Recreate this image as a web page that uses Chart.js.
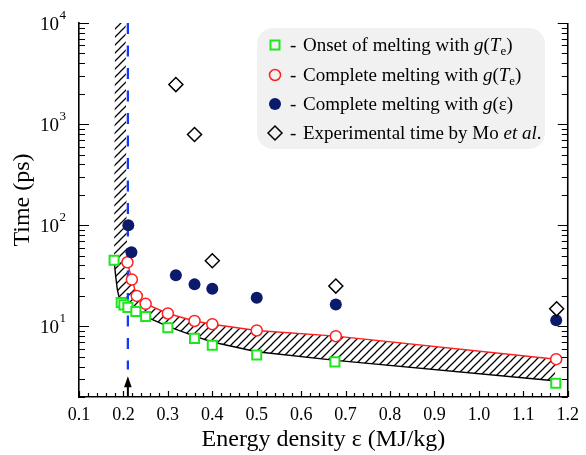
<!DOCTYPE html>
<html lang="en">
<head>
    <meta charset="UTF-8">
    <title>Melting time vs energy density</title>
    <script src="https://cdn.jsdelivr.net/npm/chart.js"></script>
    <style>
        html, body { margin: 0; padding: 0; background: #ffffff; }
        #wrap { width: 586px; height: 455px; position: relative; }
    </style>
</head>
<body>
    <div id="wrap"><canvas id="meltChart"></canvas></div>

    <script>
        // onset of melting, g(Te)
        const onsetX = [0.179, 0.195, 0.201, 0.210, 0.228, 0.250, 0.300, 0.360, 0.400, 0.500, 0.676, 1.173];
        const onsetY = [45, 17.2, 16.3, 15.4, 14.0, 12.5, 9.7, 7.6, 6.5, 5.2, 4.45, 2.74];

        // complete melting, g(Te)
        const completeTeX = [0.209, 0.219, 0.230, 0.250, 0.300, 0.360, 0.400, 0.500, 0.678, 1.174];
        const completeTeY = [43, 29, 20, 16.7, 13.4, 11.3, 10.5, 9.1, 8.0, 4.73];

        // complete melting, g(eps)
        const completeEpsX = [0.211, 0.218, 0.318, 0.360, 0.400, 0.500, 0.678, 1.174];
        const completeEpsY = [100, 54, 32, 26, 23.5, 19.2, 16.4, 11.5];

        // experiment (Mo et al.)
        const exptX = [0.318, 0.360, 0.400, 0.678, 1.175];
        const exptY = [2460, 790, 44.5, 25, 14.9];

        // lower edge of the melting band (black curve)
        const bandLowX = [0.179, 0.182, 0.186, 0.190, 0.195, 0.205, 0.220, 0.250, 0.300, 0.360, 0.400, 0.500, 0.678, 1.170];
        const bandLowY = [45, 33, 23.5, 19.5, 17.3, 15.8, 14.5, 12.5, 10.0, 8.0, 7.0, 5.6, 4.6, 2.9];
        // open ends of the band above the first markers
        const bandLeftX = [0.181];
        const bandLeftY = [10000];
        const bandRightX = [0.207, 0.205];
        const bandRightY = [100, 10000];

        // threshold marker
        const thresholdX = 0.21;
        const thresholdDashY = [10000, 3.75];
        const arrowY = [2, 3.2];

        const xTicksMin = 0.1, xTicksMax = 1.2, xStep = 0.1;
        const yMin = 2, yMax = 10000;

        const xTitle = 'Energy density \u03b5 (MJ/kg)';
        const yTitle = 'Time (ps)';

        const green = '#1ee61e', red = '#ff1f1f', navy = '#0b1a6a', blue = '#1438ff';
        const serif = "'Liberation Serif', 'DejaVu Serif', serif";

        const legendRows = [
            [['Onset of melting with ', 'n'], ['g', 'i'], ['(', 'n'], ['T', 'i'], ['e', 'sub'], [')', 'n']],
            [['Complete melting with ', 'n'], ['g', 'i'], ['(', 'n'], ['T', 'i'], ['e', 'sub'], [')', 'n']],
            [['Complete melting with ', 'n'], ['g', 'i'], ['(\u03b5)', 'n']],
            [['Experimental time by Mo ', 'n'], ['et al', 'i'], ['.', 'n']]
        ];

        function pts(xs, ys) {
            return xs.map((x, i) => ({ x: x, y: ys[i] }));
        }

        function makeHatch() {
            const c = document.createElement('canvas');
            c.width = 8; c.height = 8;
            const g = c.getContext('2d');
            g.strokeStyle = '#000';
            g.lineWidth = 1.25;
            g.beginPath();
            g.moveTo(-1, 9); g.lineTo(9, -1);
            g.moveTo(-1, 1); g.lineTo(1, -1);
            g.moveTo(7, 9); g.lineTo(9, 7);
            g.stroke();
            return g.createPattern(c, 'repeat');
        }

        // closed outline of the hatched band: down the lower edge, back up along the red curve
        const bandShape = [
            ...pts(bandLeftX, bandLeftY),
            ...pts(bandLowX, bandLowY),
            ...pts(completeTeX, completeTeY).reverse(),
            ...pts(bandRightX, bandRightY)
        ];

        function drawRuns(ctx, runs, x, y, size) {
            runs.forEach(([t, s]) => {
                if (s === 'sub') {
                    ctx.font = `${Math.round(size * 0.7)}px ${serif}`;
                    ctx.fillText(t, x, y + 4);
                } else {
                    ctx.font = (s === 'i' ? 'italic ' : '') + `${size}px ${serif}`;
                    ctx.fillText(t, x, y);
                }
                x += ctx.measureText(t).width;
            });
        }

        function legendMarker(ctx, i, cx, cy) {
            ctx.save();
            if (i === 0) {
                ctx.strokeStyle = green; ctx.lineWidth = 2;
                ctx.strokeRect(cx - 4.5, cy - 4.5, 9, 9);
            } else if (i === 1) {
                ctx.strokeStyle = red; ctx.lineWidth = 1.5;
                ctx.beginPath(); ctx.arc(cx, cy, 5.5, 0, Math.PI * 2); ctx.stroke();
            } else if (i === 2) {
                ctx.fillStyle = navy;
                ctx.beginPath(); ctx.arc(cx, cy, 6, 0, Math.PI * 2); ctx.fill();
            } else {
                ctx.strokeStyle = '#000'; ctx.lineWidth = 1.5;
                ctx.beginPath();
                ctx.moveTo(cx - 7, cy); ctx.lineTo(cx, cy - 7); ctx.lineTo(cx + 7, cy); ctx.lineTo(cx, cy + 7);
                ctx.closePath(); ctx.stroke();
            }
            ctx.restore();
        }

        // frame ticks, log labels, titles, arrow and legend box
        const decor = {
            id: 'decor',
            afterDraw(chart) {
                const { ctx, chartArea: a } = chart;
                const xs = chart.scales.x, ys = chart.scales.y;
                ctx.save();
                ctx.strokeStyle = '#000';
                ctx.lineWidth = 1.6;
                ctx.beginPath();
                ctx.moveTo(a.right, a.top); ctx.lineTo(a.right, a.bottom);
                ctx.stroke();

                ctx.lineWidth = 1.2;
                ctx.beginPath();
                for (let e = 0; e <= 4; e++) {
                    for (let m = 1; m <= 9; m++) {
                        const v = m * Math.pow(10, e);
                        if (v < yMin || v > yMax) continue;
                        const py = Math.round(ys.getPixelForValue(v)) + 0.5;
                        const len = m === 1 ? 10 : 6;
                        ctx.moveTo(a.left, py); ctx.lineTo(a.left + len, py);
                        ctx.moveTo(a.right, py); ctx.lineTo(a.right - len, py);
                    }
                }
                for (let i = 0; i <= 55; i++) {
                    const v = xTicksMin + i * 0.02;
                    const px = Math.round(xs.getPixelForValue(v)) + 0.5;
                    const len = i % 5 === 0 ? 6 : 4;
                    ctx.moveTo(px, a.bottom); ctx.lineTo(px, a.bottom - len);
                }
                ctx.stroke();

                // y labels as powers of ten
                ctx.fillStyle = '#000';
                ctx.textBaseline = 'alphabetic';
                for (let e = 1; e <= 4; e++) {
                    const py = ys.getPixelForValue(Math.pow(10, e));
                    ctx.font = `19px ${serif}`;
                    ctx.textAlign = 'right';
                    ctx.fillText('10', 59, py + 6.5);
                    ctx.font = `13px ${serif}`;
                    ctx.textAlign = 'left';
                    ctx.fillText(String(e), 59.5, py - 4);
                }

                // axis titles
                ctx.font = `24px ${serif}`;
                ctx.textAlign = 'center';
                ctx.fillText(xTitle, (a.left + a.right) / 2, 446);
                ctx.save();
                ctx.translate(23, 200);
                ctx.rotate(-Math.PI / 2);
                ctx.textBaseline = 'middle';
                ctx.fillText(yTitle, 0, 0);
                ctx.restore();

                // arrow at the threshold
                const ax = xs.getPixelForValue(thresholdX);
                const ab = ys.getPixelForValue(arrowY[0]);
                const at = ys.getPixelForValue(arrowY[1]);
                ctx.lineWidth = 2;
                ctx.beginPath(); ctx.moveTo(ax, ab); ctx.lineTo(ax, at + 8); ctx.stroke();
                ctx.beginPath();
                ctx.moveTo(ax, at); ctx.lineTo(ax - 3.8, at + 11); ctx.lineTo(ax + 3.8, at + 11);
                ctx.closePath(); ctx.fill();

                // legend
                const bx = 257, by = 28, bw = 288, bh = 121;
                ctx.fillStyle = '#f1f1f1';
                ctx.beginPath();
                ctx.roundRect(bx, by, bw, bh, 16);
                ctx.fill();
                const rowY = [45, 75, 104, 133];
                ctx.textAlign = 'left';
                ctx.textBaseline = 'alphabetic';
                legendRows.forEach((runs, i) => {
                    legendMarker(ctx, i, 275, rowY[i]);
                    ctx.fillStyle = '#000';
                    ctx.font = `19px ${serif}`;
                    ctx.fillText('-', 290, rowY[i] + 6);
                    drawRuns(ctx, runs, 303, rowY[i] + 6, 19);
                });
                ctx.restore();
            }
        };

        new Chart(document.getElementById('meltChart'), {
            type: 'scatter',
            data: {
                datasets: [
                    {
                        label: 'band',
                        data: bandShape,
                        showLine: true,
                        fill: 'shape',
                        backgroundColor: makeHatch(),
                        borderWidth: 0,
                        pointRadius: 0,
                        tension: 0,
                        order: 9
                    },
                    {
                        label: 'band edge',
                        data: pts(bandLowX, bandLowY),
                        showLine: true,
                        borderColor: '#000',
                        borderWidth: 1.4,
                        pointRadius: 0,
                        tension: 0,
                        order: 8
                    },
                    {
                        label: 'threshold',
                        data: thresholdDashY.map(y => ({ x: thresholdX, y: y })),
                        showLine: true,
                        borderColor: blue,
                        borderWidth: 2.3,
                        borderDash: [11, 11.5],
                        pointRadius: 0,
                        order: 7
                    },
                    {
                        label: 'Complete melting with g(Te)',
                        data: pts(completeTeX, completeTeY),
                        showLine: true,
                        borderColor: red,
                        borderWidth: 1.4,
                        tension: 0,
                        pointStyle: 'circle',
                        pointRadius: 5.5,
                        pointBorderWidth: 1.5,
                        pointBorderColor: red,
                        pointBackgroundColor: '#ffffff',
                        order: 4
                    },
                    {
                        label: 'Onset of melting with g(Te)',
                        data: pts(onsetX, onsetY),
                        pointStyle: 'rect',
                        pointRadius: 6.4,
                        pointBorderWidth: 2,
                        pointBorderColor: green,
                        pointBackgroundColor: '#ffffff',
                        order: 3
                    },
                    {
                        label: 'Complete melting with g(eps)',
                        data: pts(completeEpsX, completeEpsY),
                        pointStyle: 'circle',
                        pointRadius: 6,
                        pointBorderWidth: 0,
                        pointBackgroundColor: navy,
                        order: 2
                    },
                    {
                        label: 'Experimental time by Mo et al.',
                        data: pts(exptX, exptY),
                        pointStyle: 'rectRot',
                        pointRadius: 7,
                        pointBorderWidth: 1.5,
                        pointBorderColor: '#000',
                        pointBackgroundColor: '#ffffff',
                        order: 1
                    }
                ]
            },
            options: {
                responsive: true,
                maintainAspectRatio: false,
                animation: false,
                events: [],
                layout: { padding: { top: 23, right: 16, left: 0, bottom: 0 } },
                plugins: {
                    legend: { display: false },
                    tooltip: { enabled: false }
                },
                scales: {
                    x: {
                        type: 'linear',
                        min: xTicksMin,
                        max: xTicksMax,
                        grid: { display: false, drawTicks: false },
                        border: { color: '#000', width: 1.6 },
                        ticks: {
                            stepSize: xStep,
                            autoSkip: false,
                            maxRotation: 0,
                            padding: 7,
                            color: '#000',
                            font: { family: serif, size: 18 },
                            callback: v => v.toFixed(1)
                        },
                        afterFit: s => { s.height = 58; }
                    },
                    y: {
                        type: 'logarithmic',
                        min: yMin,
                        max: yMax,
                        grid: { display: false, drawTicks: false },
                        border: { color: '#000', width: 1.6 },
                        ticks: { display: false },
                        afterFit: s => { s.width = 79; }
                    }
                }
            },
            plugins: [decor]
        });
    </script>
</body>
</html>
